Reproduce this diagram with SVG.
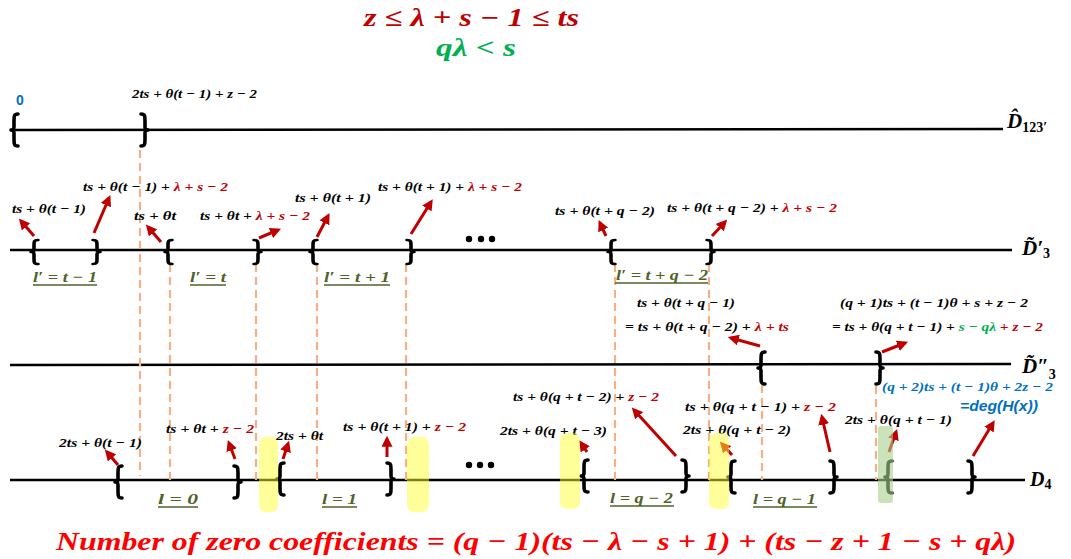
<svg xmlns="http://www.w3.org/2000/svg" width="1071" height="559" viewBox="0 0 1071 559">
<style>
.m{font-family:"Liberation Serif","DejaVu Serif",serif;font-weight:bold;font-style:italic}
.s{font-size:13.5px;fill:#000}
.r{fill:#c00000}
.g{fill:#00b050}
.b{fill:#0070c0}
.lab{font-size:15px;fill:#4f6228}
.ul{stroke:#4f6228;stroke-width:1.4}
.axis{stroke:#000;stroke-width:2.6}
.dash{stroke:#f4b183;stroke-width:2.2;stroke-dasharray:8 5;fill:none}
.br{stroke:#000;stroke-width:3.6;fill:none;stroke-linecap:round;stroke-linejoin:round}
.arr{stroke:#c00000;stroke-width:3;fill:none;marker-end:url(#ah)}
.hy{fill:#ffff33;opacity:0.5}
.hg{fill:#a9d18e;opacity:0.6}
</style>
<defs>
<marker id="ah" viewBox="0 0 10 10" refX="7" refY="5" markerUnits="userSpaceOnUse" markerWidth="11" markerHeight="11" orient="auto">
<path d="M0,0 L10,5 L0,10 z" fill="#c00000"/>
</marker>
<path id="ob" d="M4,-16 C0,-16 0,-14 0,-9 L0,-3 C0,-1 -1,0 -3,0 C-1,0 0,1 0,3 L0,9 C0,14 0,16 4,16"/>
<path id="cb" d="M-4,-16 C0,-16 0,-14 0,-9 L0,-3 C0,-1 1,0 3,0 C1,0 0,1 0,3 L0,9 C0,14 0,16 -4,16"/>
</defs>

<g id="conditions" class="m">
<text x="364" y="26" font-size="25" class="r" textLength="215" lengthAdjust="spacingAndGlyphs">z ≤ λ + s − 1 ≤ ts</text>
<text x="436" y="56" font-size="25" class="g" textLength="80" lengthAdjust="spacingAndGlyphs">qλ &lt; s</text>
</g>

<g id="axes">
<line class="axis" x1="10" y1="130" x2="1003" y2="129"/>
<line class="axis" x1="10" y1="250" x2="1012" y2="250"/>
<line class="axis" x1="10" y1="365" x2="1011" y2="364"/>
<line class="axis" x1="10" y1="480" x2="1025" y2="480"/>
</g>

<g id="axis-labels" class="m" fill="#000">
<text x="1007" y="128" font-size="21">D̂<tspan font-size="14" dy="4" font-style="normal">123′</tspan></text>
<text x="1022" y="255" font-size="21">D̃′<tspan font-size="14" dy="3" font-style="normal">3</tspan></text>
<text x="1022" y="373" font-size="21">D̃″<tspan font-size="14" dy="6" font-style="normal">3</tspan></text>
<text x="1030" y="486" font-size="20">D<tspan font-size="14" dy="3" font-style="normal">4</tspan></text>
</g>

<g id="guides">
<line class="dash" x1="140" y1="150" x2="140" y2="476"/>
<line class="dash" x1="170" y1="264" x2="170" y2="480"/>
<line class="dash" x1="256" y1="264" x2="256" y2="480"/>
<line class="dash" x1="317" y1="264" x2="317" y2="480"/>
<line class="dash" x1="406" y1="264" x2="406" y2="480"/>
<line class="dash" x1="615" y1="264" x2="615" y2="480"/>
<line class="dash" x1="709" y1="264" x2="709" y2="480"/>
<line class="dash" x1="762" y1="385" x2="762" y2="480"/>
<line class="dash" x1="876" y1="386" x2="876" y2="480"/>
</g>

<g id="brackets" class="br">
<use href="#ob" transform="translate(14,130)"/>
<use href="#cb" transform="translate(145,130)"/>
<use href="#ob" transform="translate(34,252) scale(1,0.75)"/>
<use href="#cb" transform="translate(97,252) scale(1,0.75)"/>
<use href="#ob" transform="translate(168,252) scale(1,0.75)"/>
<use href="#cb" transform="translate(258,252) scale(1,0.75)"/>
<use href="#ob" transform="translate(313,252) scale(1,0.75)"/>
<use href="#cb" transform="translate(411,252) scale(1,0.75)"/>
<use href="#ob" transform="translate(611,252) scale(1,0.75)"/>
<use href="#cb" transform="translate(711,252) scale(1,0.75)"/>
<use href="#ob" transform="translate(761,368)"/>
<use href="#cb" transform="translate(880,368)"/>
<use href="#ob" transform="translate(118,482)"/>
<use href="#cb" transform="translate(238,482)"/>
<use href="#ob" transform="translate(280,479)"/>
<use href="#cb" transform="translate(391,479)"/>
<use href="#ob" transform="translate(584,476)"/>
<use href="#cb" transform="translate(686,476)"/>
<use href="#ob" transform="translate(731,477)"/>
<use href="#cb" transform="translate(834,477)"/>
<use href="#ob" transform="translate(888,477)"/>
<use href="#cb" transform="translate(972,477)"/>
</g>

<g id="dots" fill="#000">
<circle cx="469" cy="239" r="3.2"/><circle cx="481" cy="239" r="3.2"/><circle cx="492" cy="239" r="3.2"/>
<circle cx="469" cy="465" r="3.2"/><circle cx="480" cy="465" r="3.2"/><circle cx="491" cy="465" r="3.2"/>
</g>

<g id="labels-top" class="m s">
<text x="16" y="105" class="b" style="font-family:'Liberation Sans',Arial,sans-serif;font-style:normal;font-size:14px">0</text>
<text x="132" y="98" textLength="125" lengthAdjust="spacingAndGlyphs">2ts + θ(t − 1) + z − 2</text>
</g>

<g id="labels-d3p" class="m s">
<text x="12" y="213" textLength="74" lengthAdjust="spacingAndGlyphs">ts + θ(t − 1)</text>
<text x="83" y="191" textLength="145" lengthAdjust="spacingAndGlyphs">ts + θ(t − 1) + <tspan class="r">λ + s − 2</tspan></text>
<text x="134" y="220" textLength="42" lengthAdjust="spacingAndGlyphs">ts + θt</text>
<text x="200" y="220" textLength="110" lengthAdjust="spacingAndGlyphs">ts + θt + <tspan class="r">λ + s − 2</tspan></text>
<text x="295" y="202" textLength="76" lengthAdjust="spacingAndGlyphs">ts + θ(t + 1)</text>
<text x="378" y="191" textLength="144" lengthAdjust="spacingAndGlyphs">ts + θ(t + 1) + <tspan class="r">λ + s − 2</tspan></text>
<text x="555" y="215" textLength="100" lengthAdjust="spacingAndGlyphs">ts + θ(t + q − 2)</text>
<text x="667" y="212" textLength="170" lengthAdjust="spacingAndGlyphs">ts + θ(t + q − 2) + <tspan class="r">λ + s − 2</tspan></text>
</g>

<g id="intervals-d3p" class="m lab">
<text x="33" y="282" textLength="64" lengthAdjust="spacingAndGlyphs">l′ = t − 1</text>
<line class="ul" x1="33" y1="285" x2="97" y2="285"/>
<text x="190" y="282" textLength="36" lengthAdjust="spacingAndGlyphs">l′ = t</text>
<line class="ul" x1="190" y1="285" x2="226" y2="285"/>
<text x="324" y="282" textLength="66" lengthAdjust="spacingAndGlyphs">l′ = t + 1</text>
<line class="ul" x1="324" y1="285" x2="390" y2="285"/>
<text x="616" y="280" textLength="92" lengthAdjust="spacingAndGlyphs">l′ = t + q − 2</text>
<line class="ul" x1="615" y1="283" x2="708" y2="283"/>
</g>

<g id="labels-d3pp" class="m s">
<text x="637" y="307" textLength="98" lengthAdjust="spacingAndGlyphs">ts + θ(t + q − 1)</text>
<text x="625" y="331" textLength="164" lengthAdjust="spacingAndGlyphs">= ts + θ(t + q − 2) + <tspan class="r">λ + ts</tspan></text>
<text x="840" y="307" textLength="188" lengthAdjust="spacingAndGlyphs">(q + 1)ts + (t − 1)θ + s + z − 2</text>
<text x="832" y="331" textLength="211" lengthAdjust="spacingAndGlyphs">= ts + θ(q + t − 1) + <tspan class="g">s − qλ</tspan><tspan class="r"> + z − 2</tspan></text>
<text x="882" y="391" class="b" textLength="171" lengthAdjust="spacingAndGlyphs">(q + 2)ts + (t − 1)θ + 2z − 2</text>
<text x="960" y="411" class="b" style="font-family:'Liberation Sans',Arial,sans-serif;font-size:15px" textLength="78" lengthAdjust="spacingAndGlyphs">=deg(H(x))</text>
</g>

<g id="labels-d4" class="m s">
<text x="59" y="447" textLength="83" lengthAdjust="spacingAndGlyphs">2ts + θ(t − 1)</text>
<text x="166" y="433" textLength="88" lengthAdjust="spacingAndGlyphs">ts + θt + <tspan class="r">z − 2</tspan></text>
<text x="276" y="440" textLength="47" lengthAdjust="spacingAndGlyphs">2ts + θt</text>
<text x="343" y="431" textLength="123" lengthAdjust="spacingAndGlyphs">ts + θ(t + 1) + <tspan class="r">z − 2</tspan></text>
<text x="500" y="435" textLength="107" lengthAdjust="spacingAndGlyphs">2ts + θ(q + t − 3)</text>
<text x="513" y="401" textLength="146" lengthAdjust="spacingAndGlyphs">ts + θ(q + t − 2) + <tspan class="r">z − 2</tspan></text>
<text x="685" y="411" textLength="151" lengthAdjust="spacingAndGlyphs">ts + θ(q + t − 1) + <tspan class="r">z − 2</tspan></text>
<text x="683" y="434" textLength="108" lengthAdjust="spacingAndGlyphs">2ts + θ(q + t − 2)</text>
<text x="845" y="424" textLength="107" lengthAdjust="spacingAndGlyphs">2ts + θ(q + t − 1)</text>
</g>

<g id="intervals-d4" class="m lab">
<text x="158" y="504" textLength="40" lengthAdjust="spacingAndGlyphs">l = 0</text>
<line class="ul" x1="158" y1="507" x2="198" y2="507"/>
<text x="322" y="504" textLength="35" lengthAdjust="spacingAndGlyphs">l = 1</text>
<line class="ul" x1="322" y1="507" x2="357" y2="507"/>
<text x="610" y="503" textLength="63" lengthAdjust="spacingAndGlyphs">l = q − 2</text>
<line class="ul" x1="610" y1="506" x2="674" y2="506"/>
<text x="753" y="504" textLength="63" lengthAdjust="spacingAndGlyphs">l = q − 1</text>
<line class="ul" x1="753" y1="507" x2="817" y2="507"/>
</g>

<g id="connectors">
<line class="arr" x1="34" y1="236" x2="21" y2="221"/>
<line class="arr" x1="94" y1="233" x2="109" y2="198"/>
<line class="arr" x1="161" y1="242" x2="148" y2="227"/>
<line class="arr" x1="259" y1="238" x2="278" y2="230"/>
<line class="arr" x1="317" y1="237" x2="328" y2="216"/>
<line class="arr" x1="411" y1="234" x2="431" y2="202"/>
<line class="arr" x1="606" y1="236" x2="600" y2="223"/>
<line class="arr" x1="712" y1="236" x2="725" y2="222"/>
<line class="arr" x1="760" y1="346" x2="731" y2="338"/>
<line class="arr" x1="882" y1="352" x2="905" y2="343"/>
<line class="arr" x1="118" y1="465" x2="107" y2="452"/>
<line class="arr" x1="235" y1="459" x2="229" y2="443"/>
<line class="arr" x1="283" y1="459" x2="288" y2="444"/>
<line class="arr" x1="387" y1="457" x2="387" y2="439"/>
<line class="arr" x1="587" y1="452" x2="581" y2="443"/>
<line class="arr" x1="676" y1="456" x2="634" y2="410"/>
<line class="arr" x1="732" y1="455" x2="722" y2="444"/>
<line class="arr" x1="830" y1="452" x2="822" y2="417"/>
<line class="arr" x1="889" y1="452" x2="896" y2="432"/>
<line class="arr" x1="973" y1="456" x2="993" y2="423"/>
</g>

<g id="highlights">
<rect class="hy" x="259" y="437" width="19" height="75" rx="7"/>
<rect class="hy" x="407" y="437" width="22" height="75" rx="7"/>
<rect class="hy" x="560" y="433" width="20" height="76" rx="7"/>
<rect class="hy" x="709" y="433" width="20" height="76" rx="7"/>
<rect class="hg" x="878" y="426" width="15" height="77" rx="3"/>
</g>

<g id="result" class="m">
<text x="56" y="550" font-size="26" fill="#ff0000" textLength="960" lengthAdjust="spacingAndGlyphs">Number of zero coefficients = (q − 1)(ts − λ − s + 1) + (ts − z + 1 − s + qλ)</text>
</g>
</svg>
